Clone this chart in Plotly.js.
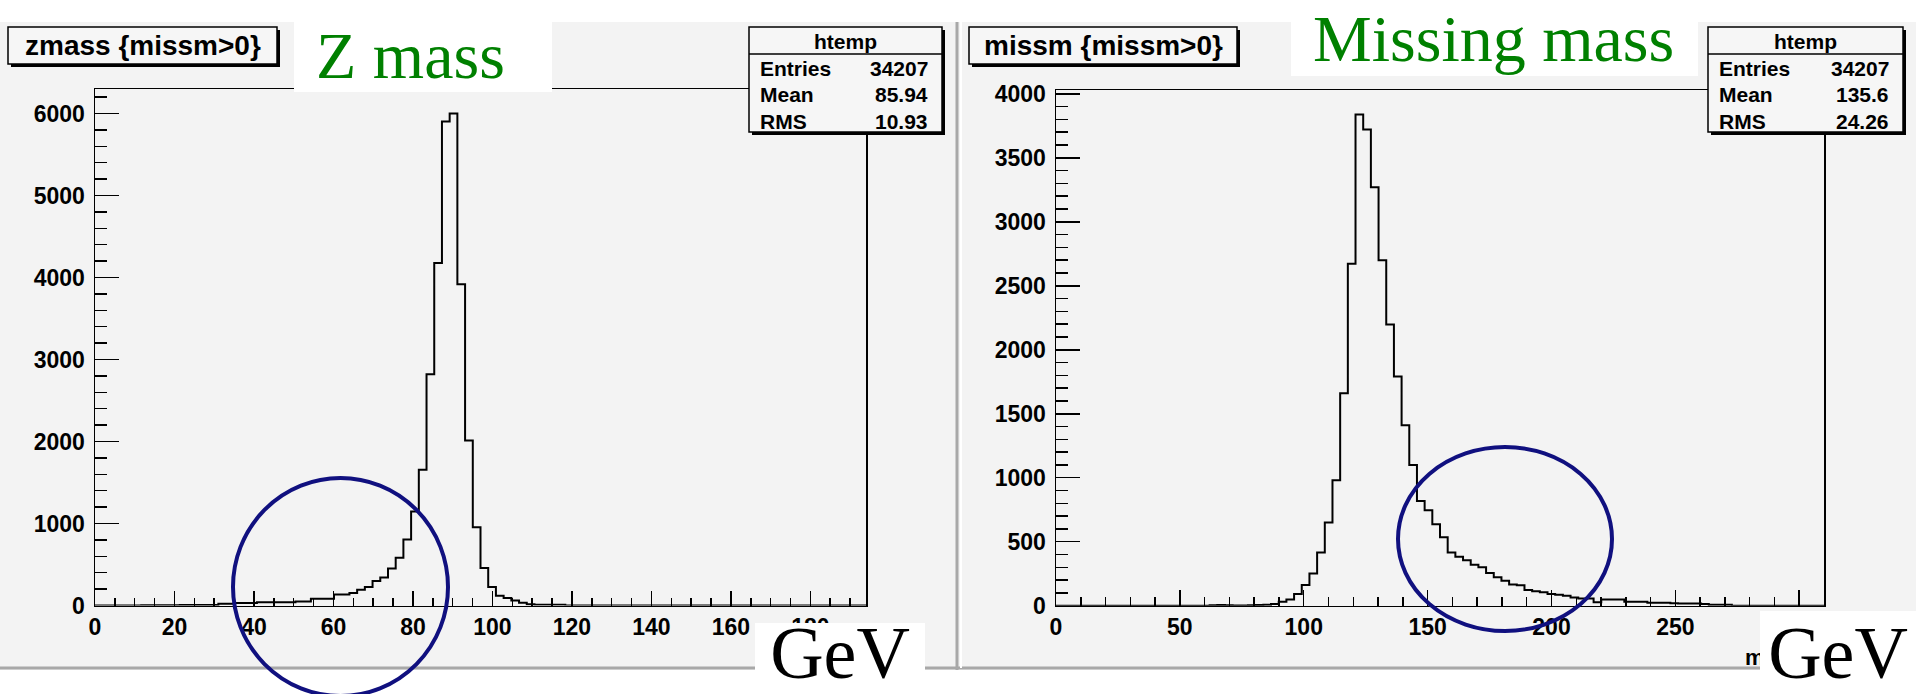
<!DOCTYPE html>
<html><head><meta charset="utf-8">
<script src="https://cdn.plot.ly/plotly-3.0.1.min.js"></script>
<style>html,body{margin:0;padding:0;background:#fff;}#chart{width:1916px;height:694px;}</style>
</head><body><div id="chart"></div>
<script>
// ---------------- data ----------------
const zmassRange = [0, 194];          // axis range of htemp (100 bins)
const zmassCounts = [
  0,0,0,0,0,0,3,3,4,4,
  4,5,5,5,6,6,20,20,29,29,
  29,41,41,41,41,41,49,49,82,82,
  82,135,135,151,192,225,298,340,450,581,
  806,1145,1656,2820,4178,5904,5999,3917,2013,953,
  458,225,119,90,61,33,16,8,8,8,
  8,0,0,0,0,0,0,0,0,0,
  0,0,0,0,0,0,0,0,0,0,
  0,0,0,0,0,0,0,0,0,0,
  0,0,0,0,0,0,0,0,0,0
];
const missmRange = [0, 310];
const missmCounts = [
  0,0,0,0,0,0,0,0,0,0,
  0,0,0,0,0,0,0,0,0,0,
  3,5,3,1,1,4,6,8,13,31,
  49,91,161,252,416,650,981,1661,2672,3838,
  3721,3271,2699,2197,1792,1410,1100,818,745,636,
  535,415,382,356,320,300,255,222,195,165,
  160,122,112,106,91,86,78,65,57,57,
  26,49,49,49,31,31,31,23,23,23,
  20,18,18,18,13,8,8,8,0,0,
  0,0,0,0,0,0,0,0,0,0
];
const zmassYMax = 6299, missmYMax = 4030;
const zmassXTicks = [0,20,40,60,80,100,120,140,160,180];
const zmassYTicks = [0,1000,2000,3000,4000,5000,6000];
const missmXTicks = [0,50,100,150,200,250,300];
const missmYTicks = [0,500,1000,1500,2000,2500,3000,3500,4000];
const panelTitles = ['zmass {missm>0}', 'missm {missm>0}'];
const statLabels = ['Entries', 'Mean', 'RMS'];
const zmassStats = ['34207', '85.94', '10.93'];
const missmStats = ['34207', '135.6', '24.26'];
const statsName = 'htemp';
const bigLabels = ['Z mass', 'Missing mass'];
const unitLabel = 'GeV';
const hiddenAxisTitle = 'missm';

// ---------------- helpers ----------------
const W = 1916, H = 694;
const px = x => x / W, py = y => 1 - y / H;

function stepTrace(range, counts, xa, ya) {
  const n = counts.length, w = (range[1] - range[0]) / n;
  const xs = [], ys = [];
  for (let i = 0; i < n; i++) { xs.push(range[0] + i * w); ys.push(counts[i]); }
  xs.push(range[1]); ys.push(counts[n - 1]);
  return {type: 'scatter', mode: 'lines', x: xs, y: ys, xaxis: xa, yaxis: ya,
          line: {shape: 'hv', color: '#000', width: 2}, hoverinfo: 'skip'};
}

const tickFont = {family: 'Liberation Sans, Arial, sans-serif', size: 23, color: '#000', weight: 'bold'};
function axisBase(extra) {
  return Object.assign({
    showline: true, mirror: true, linecolor: '#000', linewidth: 1.5,
    showgrid: false, zeroline: false, ticks: 'inside', tickcolor: '#000', tickwidth: 1.5,
    tickfont: tickFont, fixedrange: true, tickmode: 'array'
  }, extra);
}

const GRAY = '#f3f3f3';
const shapes = [];
const ann = [];
function rect(x0, y0, x1, y1, fill, lineColor, lw, layer) {
  shapes.push({type: 'rect', xref: 'paper', yref: 'paper', x0: px(x0), x1: px(x1), y0: py(y1), y1: py(y0),
    fillcolor: fill, line: {color: lineColor || 'rgba(0,0,0,0)', width: lw || 0}, layer: layer || 'above'});
}
function hline(x0, x1, y, color, w, layer) {
  shapes.push({type: 'line', xref: 'paper', yref: 'paper', x0: px(x0), x1: px(x1), y0: py(y), y1: py(y),
    line: {color: color, width: w}, layer: layer || 'above'});
}
function vline(x, y0, y1, color, w, layer) {
  shapes.push({type: 'line', xref: 'paper', yref: 'paper', x0: px(x), x1: px(x), y0: py(y0), y1: py(y1),
    line: {color: color, width: w}, layer: layer || 'above'});
}
function text(t, x, y, xanchor, font, extra) {
  ann.push(Object.assign({text: t, x: px(x), y: py(y), xref: 'paper', yref: 'paper', xanchor: xanchor,
    yanchor: 'middle', showarrow: false, font: font}, extra || {}));
}
const boldFont = s => ({family: 'Liberation Sans, Arial, sans-serif', size: s, color: '#000', weight: 'bold'});
const serifFont = (s, c) => ({family: 'Liberation Serif, Times New Roman, serif', size: s, color: c});

// canvas background and pad borders
rect(0, 22, 1916, 670, GRAY, null, 0, 'below');
hline(0, 1916, 668, '#a8a8a8', 3, 'below');
vline(957, 22, 670, '#a8a8a8', 3, 'below');
vline(961, 22, 668, '#ffffff', 2, 'below');

// title boxes (with ROOT shadow)
function titleBox(x0, y0, x1, y1, t) {
  rect(x0 + 3, y0 + 3, x1 + 3, y1 + 3, '#000');
  rect(x0, y0, x1, y1, '#f6f6f6', '#000', 1.5);
  text(t, (x0 + x1) / 2, (y0 + y1) / 2, 'center', boldFont(28));
}
titleBox(8, 27, 277, 64, panelTitles[0]);
titleBox(969, 27, 1237, 64, panelTitles[1]);

// stats boxes
function statsBox(x0, y0, x1, y1, vals) {
  rect(x0 + 3, y0 + 3, x1 + 3, y1 + 3, '#000');
  rect(x0, y0, x1, y1, '#f6f6f6', '#000', 1.5);
  hline(x0, x1, y0 + 27, '#000', 1.5);
  text(statsName, (x0 + x1) / 2, y0 + 15, 'center', boldFont(21));
  for (let i = 0; i < statLabels.length; i++) {
    const yy = y0 + 42 + i * 26;
    text(statLabels[i], x0 + 9, yy, 'left', boldFont(21));
    text(vals[i], x1 - 12, yy, 'right', boldFont(21));
  }
}
statsBox(749, 27, 942, 132, zmassStats);
statsBox(1708, 27, 1903, 132, missmStats);

// white boxes with green titles
rect(294, 22, 552, 92, '#ffffff');
rect(1291, 0, 1698, 76, '#ffffff');
text(bigLabels[0], 314, 56, 'left', serifFont(66, '#008000'));
text(bigLabels[1], 1311, 39, 'left', serifFont(66, '#008000'));

// ellipses
shapes.push({type: 'circle', xref: 'paper', yref: 'paper', x0: px(233), x1: px(448), y0: py(696), y1: py(478),
  line: {color: '#10107f', width: 4}, layer: 'above'});
shapes.push({type: 'circle', xref: 'paper', yref: 'paper', x0: px(1398), x1: px(1612), y0: py(631), y1: py(447),
  line: {color: '#10107f', width: 4}, layer: 'above'});

// hidden axis title under the GeV box, then GeV boxes
text(hiddenAxisTitle, 1743, 657, 'left', boldFont(22));
ann.push({text: unitLabel, x: px(755), y: py(623), xref: 'paper', yref: 'paper', xanchor: 'left', yanchor: 'top',
  width: 170, height: 71, bgcolor: '#ffffff', borderpad: 0, borderwidth: 0, showarrow: false,
  align: 'center', valign: 'bottom', font: serifFont(74, '#000')});
ann.push({text: unitLabel, x: px(1760), y: py(611), xref: 'paper', yref: 'paper', xanchor: 'left', yanchor: 'top',
  width: 156, height: 83, bgcolor: '#ffffff', borderpad: 0, borderwidth: 0, showarrow: false,
  align: 'center', valign: 'middle', font: serifFont(74, '#000')});

const layout = {
  width: W, height: H, margin: {l: 0, r: 0, t: 0, b: 0},
  paper_bgcolor: '#ffffff', plot_bgcolor: GRAY, showlegend: false,
  xaxis: axisBase({domain: [px(95), px(866)], range: zmassRange, anchor: 'y',
    tickvals: zmassXTicks, ticktext: zmassXTicks.map(String), ticklen: 15,
    minor: {tickmode: 'linear', tick0: 0, dtick: 5, ticklen: 8, ticks: 'inside', tickcolor: '#000', tickwidth: 1.5}}),
  yaxis: axisBase({domain: [py(605.5), py(89)], range: [0, zmassYMax], anchor: 'x',
    tickvals: zmassYTicks, ticktext: zmassYTicks.map(String), ticklen: 24, ticklabelstandoff: 4,
    minor: {tickmode: 'linear', tick0: 0, dtick: 200, ticklen: 12, ticks: 'inside', tickcolor: '#000', tickwidth: 1.5}}),
  xaxis2: axisBase({domain: [px(1056), px(1824)], range: missmRange, anchor: 'y2',
    tickvals: missmXTicks, ticktext: missmXTicks.map(String), ticklen: 16,
    minor: {tickmode: 'linear', tick0: 0, dtick: 10, ticklen: 9, ticks: 'inside', tickcolor: '#000', tickwidth: 1.5}}),
  yaxis2: axisBase({domain: [py(605.7), py(90)], range: [0, missmYMax], anchor: 'x2',
    tickvals: missmYTicks, ticktext: missmYTicks.map(String), ticklen: 24, ticklabelstandoff: 4,
    minor: {tickmode: 'linear', tick0: 0, dtick: 100, ticklen: 12, ticks: 'inside', tickcolor: '#000', tickwidth: 1.5}}),
  shapes: shapes, annotations: ann
};

Plotly.newPlot('chart', [
  stepTrace(zmassRange, zmassCounts, 'x', 'y'),
  stepTrace(missmRange, missmCounts, 'x2', 'y2')
], layout, {displayModeBar: false, staticPlot: true});
</script>
</body></html>
